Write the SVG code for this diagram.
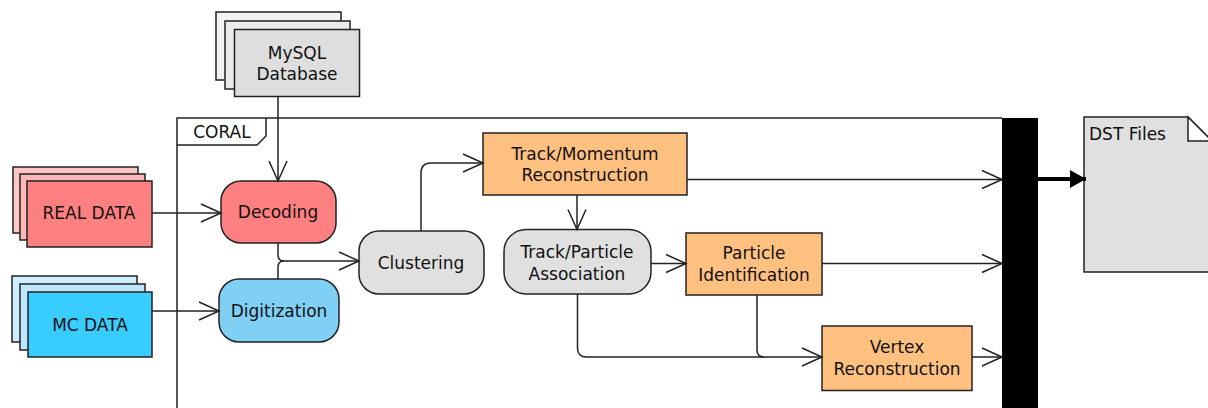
<svg xmlns="http://www.w3.org/2000/svg" width="1208" height="408" viewBox="0 0 1208 408">
<defs>
<style>
text{font-family:"DejaVu Sans","Liberation Sans",sans-serif;font-size:17px;fill:#111;text-anchor:middle}
.b{stroke:#222;stroke-width:1.5}
.ln{fill:none;stroke:#222;stroke-width:1.5}
</style>
<marker id="open" markerUnits="userSpaceOnUse" markerWidth="24" markerHeight="22" refX="21" refY="10" orient="auto" overflow="visible">
<path d="M1,1 L21,10 L1,19" fill="none" stroke="#222" stroke-width="1.5"/>
</marker>
<marker id="solid" markerUnits="userSpaceOnUse" markerWidth="18" markerHeight="18" refX="16" refY="9" orient="auto" overflow="visible">
<path d="M0,0 L16,9 L0,18 Z" fill="#000"/>
</marker>
</defs>
<rect width="1208" height="408" fill="#fff"/>

<g id="coral-frame">
<path class="ln" d="M177,408 L177,118 L1002,118"/>
<path class="ln" d="M177,145 L257,145 L266,136 L266,118"/>
<text x="222" y="137.5">CORAL</text>
</g>

<g id="mysql">
<rect class="b" x="216" y="12" width="125" height="68" fill="#F2F2F2"/>
<rect class="b" x="225" y="21" width="125" height="68" fill="#EBEBEB"/>
<rect class="b" x="234.5" y="29.5" width="125" height="67" fill="#DEDEDE"/>
<text x="297" y="59">MySQL</text>
<text x="297" y="79.5">Database</text>
</g>

<g id="real-data">
<rect class="b" x="13" y="167" width="125" height="66" fill="#FFC6C6"/>
<rect class="b" x="20" y="174" width="125" height="66" fill="#FFB8B8"/>
<rect class="b" x="27" y="181" width="125" height="66" fill="#FF8080"/>
<text x="89" y="219">REAL DATA</text>
</g>

<g id="mc-data">
<rect class="b" x="12" y="276" width="125" height="66" fill="#CDEDFF"/>
<rect class="b" x="20" y="284" width="125" height="66" fill="#BEE6FF"/>
<rect class="b" x="28" y="292" width="124" height="65" fill="#38CCFF"/>
<text x="90" y="331">MC DATA</text>
</g>

<g id="decoding">
<rect class="b" x="221" y="181" width="115" height="62" rx="20" fill="#FF8080"/>
<text x="278" y="218">Decoding</text>
</g>

<g id="digitization">
<rect class="b" x="219" y="279" width="120" height="63" rx="20" fill="#80D0F6"/>
<text x="279" y="317">Digitization</text>
</g>

<g id="clustering">
<rect class="b" x="359" y="231" width="125" height="63" rx="20" fill="#E0E0E0"/>
<text x="421" y="269">Clustering</text>
</g>

<g id="track-momentum">
<rect class="b" x="483" y="133" width="204" height="62" fill="#FFC080"/>
<text x="585" y="159.5">Track/Momentum</text>
<text x="585" y="180.5">Reconstruction</text>
</g>

<g id="track-particle">
<rect class="b" x="504" y="229.5" width="147" height="64.5" rx="22" fill="#E0E0E0"/>
<text x="577" y="258">Track/Particle</text>
<text x="577" y="279.5">Association</text>
</g>

<g id="particle-id">
<rect class="b" x="686" y="233" width="136" height="62" fill="#FFC080"/>
<text x="754" y="259">Particle</text>
<text x="754" y="280.5">Identification</text>
</g>

<g id="vertex">
<rect class="b" x="822" y="326" width="150" height="64.5" fill="#FFC080"/>
<text x="897" y="353">Vertex</text>
<text x="897" y="375">Reconstruction</text>
</g>

<g id="join-bar">
<rect x="1002" y="118" width="36" height="290" fill="#000"/>
</g>

<g id="dst-files">
<path class="b" d="M1084,117 L1188,117 L1212,141 L1212,272 L1084,272 Z" fill="#E0E0E0"/>
<path class="b" d="M1188,117 L1188,141 L1212,141 Z" fill="#fff"/>
<text x="1089" y="139.5" style="text-anchor:start">DST Files</text>
</g>

<g id="connectors">
<path class="ln" d="M278,97 L278,181" marker-end="url(#open)"/>
<path class="ln" d="M152,213 L221,213" marker-end="url(#open)"/>
<path class="ln" d="M152,311 L219,311" marker-end="url(#open)"/>
<path class="ln" d="M278,243 L278,255 Q278,261 284,261 L359,261" marker-end="url(#open)"/>
<path class="ln" d="M278,279 L278,267 Q278,261 284,261"/>
<path class="ln" d="M421,231 L421,173 Q421,163 431,163 L483,163" marker-end="url(#open)"/>
<path class="ln" d="M577,195 L577,229.5" marker-end="url(#open)"/>
<path class="ln" d="M651,263.5 L686,263.5" marker-end="url(#open)"/>
<path class="ln" d="M687,179.5 L1002,179.5" marker-end="url(#open)"/>
<path class="ln" d="M822,263.5 L1002,263.5" marker-end="url(#open)"/>
<path class="ln" d="M577.5,294 L577.5,348 Q577.5,357 586.5,357 L822,357" marker-end="url(#open)"/>
<path class="ln" d="M757,295 L757,350 Q757,357 764,357"/>
<path class="ln" d="M972,357 L1002,357" marker-end="url(#open)"/>
<path d="M1038,179 L1086,179" stroke="#000" stroke-width="4" fill="none" marker-end="url(#solid)"/>
</g>
</svg>
